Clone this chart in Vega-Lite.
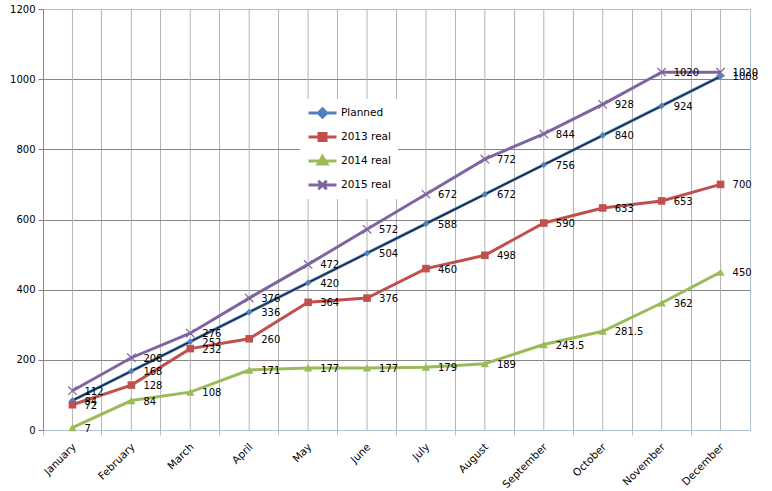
{
  "$schema": "https://vega.github.io/schema/vega-lite/v6.json",
  "width": 707,
  "height": 421,
  "autosize": "none",
  "padding": {"left": 43, "top": 9, "right": 22, "bottom": 61},
  "background": "white",
  "config": {
    "font": "DejaVu Sans",
    "view": {"stroke": "#b3c3d6", "strokeWidth": 1}
  },
  "data": {
    "values": [
      {"month": "January", "series": "Planned", "value": 84},
      {"month": "February", "series": "Planned", "value": 168},
      {"month": "March", "series": "Planned", "value": 252},
      {"month": "April", "series": "Planned", "value": 336},
      {"month": "May", "series": "Planned", "value": 420},
      {"month": "June", "series": "Planned", "value": 504},
      {"month": "July", "series": "Planned", "value": 588},
      {"month": "August", "series": "Planned", "value": 672},
      {"month": "September", "series": "Planned", "value": 756},
      {"month": "October", "series": "Planned", "value": 840},
      {"month": "November", "series": "Planned", "value": 924},
      {"month": "December", "series": "Planned", "value": 1008},
      {"month": "January", "series": "2013 real", "value": 72},
      {"month": "February", "series": "2013 real", "value": 128},
      {"month": "March", "series": "2013 real", "value": 232},
      {"month": "April", "series": "2013 real", "value": 260},
      {"month": "May", "series": "2013 real", "value": 364},
      {"month": "June", "series": "2013 real", "value": 376},
      {"month": "July", "series": "2013 real", "value": 460},
      {"month": "August", "series": "2013 real", "value": 498},
      {"month": "September", "series": "2013 real", "value": 590},
      {"month": "October", "series": "2013 real", "value": 633},
      {"month": "November", "series": "2013 real", "value": 653},
      {"month": "December", "series": "2013 real", "value": 700},
      {"month": "January", "series": "2014 real", "value": 7},
      {"month": "February", "series": "2014 real", "value": 84},
      {"month": "March", "series": "2014 real", "value": 108},
      {"month": "April", "series": "2014 real", "value": 171},
      {"month": "May", "series": "2014 real", "value": 177},
      {"month": "June", "series": "2014 real", "value": 177},
      {"month": "July", "series": "2014 real", "value": 179},
      {"month": "August", "series": "2014 real", "value": 189},
      {"month": "September", "series": "2014 real", "value": 243.5},
      {"month": "October", "series": "2014 real", "value": 281.5},
      {"month": "November", "series": "2014 real", "value": 362},
      {"month": "December", "series": "2014 real", "value": 450},
      {"month": "January", "series": "2015 real", "value": 112},
      {"month": "February", "series": "2015 real", "value": 206},
      {"month": "March", "series": "2015 real", "value": 276},
      {"month": "April", "series": "2015 real", "value": 376},
      {"month": "May", "series": "2015 real", "value": 472},
      {"month": "June", "series": "2015 real", "value": 572},
      {"month": "July", "series": "2015 real", "value": 672},
      {"month": "August", "series": "2015 real", "value": 772},
      {"month": "September", "series": "2015 real", "value": 844},
      {"month": "October", "series": "2015 real", "value": 928},
      {"month": "November", "series": "2015 real", "value": 1020},
      {"month": "December", "series": "2015 real", "value": 1020}
    ]
  },
  "encoding": {
    "x": {
      "field": "month",
      "type": "ordinal",
      "bandPosition": 0.5,
      "sort": ["January", "February", "March", "April", "May", "June", "July", "August", "September", "October", "November", "December"],
      "scale": {"type": "band", "paddingInner": 0, "paddingOuter": 0},
      "axis": {
        "title": null,
        "bandPosition": 0,
        "labelOffset": 2,
        "labelAngle": -45,
        "labelAlign": "right",
        "labelBaseline": "middle",
        "labelPadding": 10,
        "labelFontSize": 10.5,
        "labelColor": "black",
        "domainColor": "#b3c3d6",
        "tickColor": "#b3c3d6",
        "tickSize": 5,
        "grid": true,
        "gridColor": {"condition": {"test": "datum.value === 'January'", "value": "transparent"}, "value": "#b4b4b4"}
      }
    }
  },
  "layer": [
    {
      "transform": [{"filter": "datum.series === 'Planned'"}],
      "mark": {"type": "rule", "color": "#b4b4b4", "strokeWidth": 1},
      "encoding": {}
    },
    {
      "mark": {"type": "line", "strokeWidth": 3},
      "encoding": {
        "y": {
          "field": "value",
          "type": "quantitative",
          "scale": {"domain": [0, 1200]},
          "axis": {
            "title": null,
            "values": [0, 200, 400, 600, 800, 1000, 1200],
            "format": "d",
            "grid": true,
            "gridColor": {"condition": {"test": "datum.value === 0 || datum.value === 1200", "value": "transparent"}, "value": "#868686"},
            "domainColor": "#868686",
            "tickColor": "#868686",
            "tickSize": 5,
            "labelPadding": 3,
            "labelFontSize": 10,
            "labelColor": "black"
          }
        },
        "color": {
          "field": "series",
          "type": "nominal",
          "scale": {
            "domain": ["Planned", "2013 real", "2014 real", "2015 real"],
            "range": ["#4F81BD", "#C0504D", "#9BBB59", "#8064A2"]
          },
          "legend": {
            "title": null,
            "orient": "none",
            "legendX": 257,
            "legendY": 90,
            "fillColor": "white",
            "padding": 7,
            "symbolSize": 784,
            "clipHeight": 14,
            "rowPadding": 10,
            "labelOffset": 3,
            "labelFont": "DejaVu Sans",
            "labelFontSize": 10.5,
            "labelColor": "black",
            "encode": {
              "symbols": {
                "update": {
                  "shape": {"signal": "datum.value === 'Planned' ? 'M-1,0H1M0,-0.3L0.3,0L0,0.3L-0.3,0Z' : datum.value === '2013 real' ? 'M-1,0H1M-0.25,-0.25H0.25V0.25H-0.25Z' : datum.value === '2014 real' ? 'M-1,0H1M0,-0.32L0.32,0.22H-0.32Z' : 'M-1,0H1M-0.3,-0.3L0.3,0.3M-0.3,0.3L0.3,-0.3'"},
                  "size": {"value": 784},
                  "stroke": {"signal": "scale('color', datum.value)"},
                  "fill": {"signal": "datum.value === '2015 real' ? 'transparent' : scale('color', datum.value)"},
                  "strokeWidth": {"value": 3},
                  "opacity": {"value": 1}
                }
              }
            }
          }
        }
      }
    },
    {
      "transform": [{"filter": "datum.series === 'Planned'"}],
      "mark": {"type": "line", "strokeWidth": 1.5, "color": "#1c2a3e"},
      "encoding": {
        "y": {"field": "value", "type": "quantitative"}
      }
    },
    {
      "transform": [{"filter": "datum.series !== '2015 real'"}],
      "mark": {"type": "point", "filled": true, "opacity": 1, "strokeWidth": 1},
      "encoding": {
        "y": {"field": "value", "type": "quantitative"},
        "shape": {
          "field": "series",
          "type": "nominal",
          "scale": {
            "domain": ["Planned", "2013 real", "2014 real"],
            "range": ["diamond", "square", "triangle-up"]
          },
          "legend": null
        },
        "size": {
          "field": "series",
          "type": "nominal",
          "scale": {
            "domain": ["Planned", "2013 real", "2014 real"],
            "range": [45, 70, 65]
          },
          "legend": null
        },
        "color": {"field": "series", "type": "nominal", "legend": null}
      }
    },
    {
      "transform": [{"filter": "datum.series === '2015 real'"}],
      "mark": {"type": "point", "filled": false, "opacity": 1, "strokeWidth": 1.2, "shape": "M-1,-1L1,1M-1,1L1,-1", "size": 70, "color": "#8064A2"},
      "encoding": {
        "y": {"field": "value", "type": "quantitative"}
      }
    },
    {
      "mark": {"type": "text", "align": "left", "baseline": "middle", "dx": 12, "dy": 1, "fontSize": 10, "color": "black"},
      "encoding": {
        "y": {"field": "value", "type": "quantitative"},
        "text": {"field": "value", "type": "quantitative"}
      }
    }
  ]
}
